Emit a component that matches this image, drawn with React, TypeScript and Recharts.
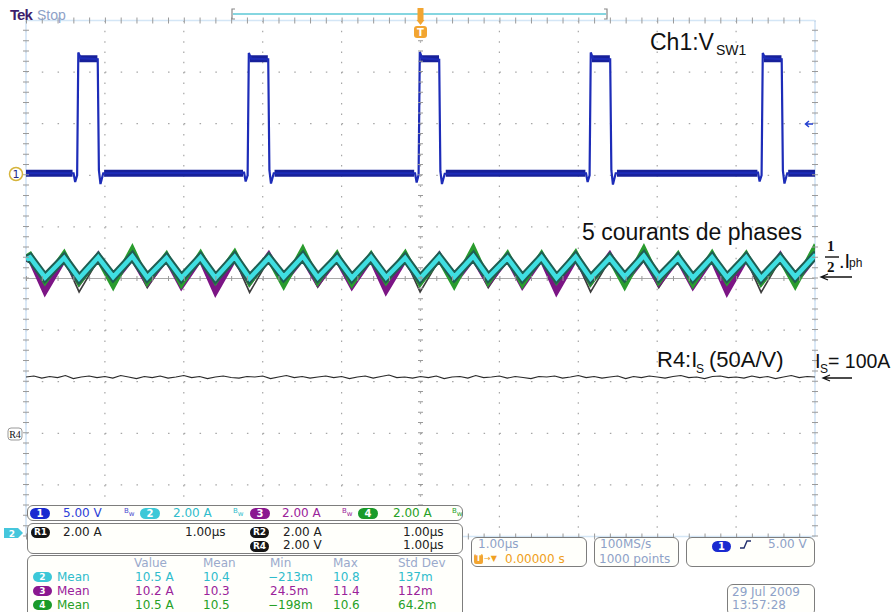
import React from 'react';
import { LineChart, Line, XAxis, YAxis, CartesianGrid, ReferenceLine } from 'recharts';

// horizontal: µs (1.00 µs/div), vertical: graticule divisions (0 = bottom edge, 10 = top edge)
const divTicks = [0, 1, 2, 3, 4, 5, 6, 7, 8, 9, 10];

// Ch1 : V_SW1
const ch1Time = [
  0, 0.603, 0.623, 0.648, 0.663, 0.693, 0.909, 0.924, 0.944, 0.979,
  2.764, 2.784, 2.809, 2.824, 2.854, 3.070, 3.085, 3.105, 3.140,
  4.931, 4.951, 4.976, 4.991, 5.021, 5.237, 5.252, 5.272, 5.307,
  7.098, 7.118, 7.143, 7.158, 7.188, 7.404, 7.419, 7.439, 7.474,
  9.278, 9.298, 9.323, 9.338, 9.368, 9.578, 9.593, 9.613, 9.648, 10,
];
const ch1Level = [
  7.04, 7.04, 6.87, 7.00, 9.38, 9.27, 9.25, 7.10, 6.83, 7.04,
  7.05, 6.88, 7.00, 9.37, 9.26, 9.25, 7.10, 6.84, 7.04,
  7.04, 6.86, 7.01, 9.39, 9.27, 9.24, 7.08, 6.83, 7.03,
  7.04, 6.87, 7.00, 9.38, 9.26, 9.25, 7.10, 6.82, 7.04,
  7.05, 6.88, 7.00, 9.37, 9.27, 9.25, 7.09, 6.84, 7.04, 7.04,
];
// noise envelope of Ch1 (low and high levels)
const ch1BandTime = [
  0, 0.59, 0.62, 0.675, 0.905, 0.94, 0.99, 2.75, 2.78, 2.835, 3.065, 3.10,
  3.15, 4.92, 4.95, 5.00, 5.235, 5.27, 5.32, 7.09, 7.12, 7.17, 7.40, 7.44,
  7.49, 9.27, 9.30, 9.35, 9.575, 9.61, 9.66, 10,
];
const ch1BandLevel = [
  7.04, 7.04, null, 9.26, 9.26, null, 7.04, 7.04, null, 9.26, 9.26, null,
  7.04, 7.04, null, 9.26, 9.26, null, 7.04, 7.04, null, 9.26, 9.26, null,
  7.04, 7.04, null, 9.26, 9.26, null, 7.04, 7.04,
];

// phase currents: peak / valley vertices
const rippleTime = [
  0, 0.051, 0.241, 0.483, 0.673, 0.915, 1.105, 1.347, 1.537, 1.780, 1.970,
  2.212, 2.402, 2.644, 2.834, 3.076, 3.266, 3.508, 3.698, 3.941, 4.131,
  4.373, 4.563, 4.805, 4.995, 5.237, 5.427, 5.669, 5.859, 6.102, 6.292,
  6.534, 6.724, 6.966, 7.156, 7.398, 7.588, 7.830, 8.020, 8.263, 8.453,
  8.695, 8.885, 9.127, 9.317, 9.559, 9.749, 9.991, 10,
];
const ch2 = [5.37,
  5.41, 5.02, 5.40, 5.00, 5.41, 5.03, 5.43, 5.02, 5.40, 5.01,
  5.41, 5.01, 5.42, 5.00, 5.40, 5.03, 5.43, 5.02, 5.40, 5.01,
  5.41, 5.02, 5.40, 5.00, 5.41, 5.03, 5.43, 5.02, 5.40, 5.01,
  5.41, 5.01, 5.42, 5.00, 5.40, 5.03, 5.44, 5.02, 5.40, 5.01,
  5.41, 5.02, 5.41, 5.00, 5.40, 5.03,
  5.43, 5.42];
const ch3 = [5.36,
  5.40, 4.76, 5.39, 4.93, 5.44, 4.94, 5.41, 4.92, 5.40, 4.86,
  5.40, 4.75, 5.40, 4.93, 5.45, 4.94, 5.41, 4.92, 5.39, 4.86,
  5.40, 4.77, 5.39, 4.93, 5.44, 4.93, 5.41, 4.92, 5.40, 4.87,
  5.40, 4.76, 5.40, 4.93, 5.45, 4.94, 5.41, 4.92, 5.39, 4.86,
  5.40, 4.75, 5.40, 4.93, 5.44, 4.94,
  5.41, 5.40];
const ch4 = [5.40,
  5.45, 4.95, 5.47, 4.93, 5.40, 4.87, 5.56, 4.94, 5.45, 4.90,
  5.47, 4.96, 5.49, 4.93, 5.41, 4.88, 5.55, 4.95, 5.46, 4.91,
  5.45, 4.95, 5.47, 4.92, 5.40, 4.88, 5.57, 4.94, 5.46, 4.90,
  5.46, 4.96, 5.48, 4.93, 5.41, 4.87, 5.56, 4.95, 5.45, 4.90,
  5.47, 4.95, 5.46, 4.92, 5.40, 4.88,
  5.57, 5.55];
const ref1 = [5.33,
  5.37, 4.90, 5.38, 4.74, 5.36, 4.96, 5.38, 4.82, 5.37, 4.95,
  5.37, 4.91, 5.38, 4.73, 5.36, 4.96, 5.38, 4.83, 5.37, 4.95,
  5.37, 4.90, 5.38, 4.74, 5.36, 4.96, 5.38, 4.82, 5.37, 4.95,
  5.37, 4.91, 5.38, 4.74, 5.36, 4.96, 5.38, 4.82, 5.37, 4.95,
  5.37, 4.90, 5.38, 4.73, 5.36, 4.96,
  5.38, 5.37];

// R4 : I_S, one sample every 0.1 µs
const r4 = [
  3.09, 3.11, 3.07, 3.10, 3.08, 3.12, 3.06, 3.09, 3.11, 3.08,
  3.10, 3.07, 3.12, 3.09, 3.06, 3.10, 3.08, 3.11, 3.07, 3.09,
  3.12, 3.08, 3.10, 3.06, 3.09, 3.11, 3.08, 3.07, 3.10, 3.09,
  3.11, 3.06, 3.09, 3.12, 3.08, 3.10, 3.07, 3.09, 3.11, 3.08,
  3.10, 3.06, 3.09, 3.11, 3.07, 3.10, 3.13, 3.08, 3.09, 3.07,
  3.10, 3.08, 3.11, 3.06, 3.09, 3.10, 3.07, 3.12, 3.08, 3.09,
  3.11, 3.07, 3.10, 3.08, 3.06, 3.10, 3.09, 3.11, 3.07, 3.09,
  3.12, 3.08, 3.10, 3.07, 3.09, 3.11, 3.06, 3.10, 3.08, 3.11,
  3.09, 3.07, 3.10, 3.12, 3.08, 3.09, 3.06, 3.10, 3.11, 3.08,
  3.09, 3.07, 3.11, 3.08, 3.10, 3.06, 3.09, 3.12, 3.08, 3.10, 3.09,
];

const zip = (ts: number[], vs: (number | null)[]) => ts.map((t, i) => ({ t, v: vs[i] }));
const ch1Data = zip(ch1Time, ch1Level);
const ch1BandData = zip(ch1BandTime, ch1BandLevel);
const ch2Data = zip(rippleTime, ch2);
const ch3Data = zip(rippleTime, ch3);
const ch4Data = zip(rippleTime, ch4);
const ref1Data = zip(rippleTime, ref1);
const r4Data = r4.map((v, i) => ({ t: i / 10, v }));

const UI = '"DejaVu Sans", sans-serif';
const ARIAL = '"Liberation Sans", Arial, sans-serif';
const SERIF = '"Liberation Serif", serif';
const LABEL = '#8ea2c8';

function T({ x, base, size = 12, color = '#222', family = UI, weight = 400, children, style }: any) {
  return (
    <div style={{ position: 'absolute', left: x, top: base - 0.846 * size, fontSize: size, lineHeight: `${size}px`, color, fontFamily: family, fontWeight: weight, whiteSpace: 'nowrap', ...style }}>
      {children}
    </div>
  );
}

function Box({ x, y, w, h }: any) {
  return <div style={{ position: 'absolute', left: x, top: y, width: w, height: h, border: '1.5px solid #7d7d7d', borderRadius: 6, background: '#fffffb', boxSizing: 'border-box' }} />;
}

function Pill({ x, y, w = 19, h = 11, bg, label, size = 10 }: any) {
  return (
    <div style={{ position: 'absolute', left: x, top: y, width: w, height: h, borderRadius: h / 2, background: bg, color: '#fff', fontFamily: UI, fontWeight: 700, fontSize: size, lineHeight: `${h}px`, textAlign: 'center' }}>
      {label}
    </div>
  );
}

function Bw({ x, y, color }: any) {
  return (
    <div style={{ position: 'absolute', left: x, top: y, fontFamily: UI, fontSize: 7, lineHeight: '7px', color }}>
      B<span style={{ position: 'relative', top: 3 }}>w</span>
    </div>
  );
}

export default function App() {
  return (
    <div style={{ position: 'absolute', left: 0, top: 0, width: 895, height: 612, background: '#fff', overflow: 'hidden' }}>
      <LineChart width={895} height={612} margin={{ top: 20.5, right: 80, bottom: 75.5, left: 26 }}>
        <XAxis type="number" dataKey="t" domain={[0, 10]} ticks={divTicks} hide allowDataOverflow />
        <YAxis type="number" dataKey="v" domain={[0, 10]} ticks={divTicks} hide allowDataOverflow />
        <CartesianGrid horizontal={false} stroke="#a6a6a6" strokeWidth={1.2} strokeDasharray="1.5 8.82" />
        <CartesianGrid vertical={false} stroke="#a6a6a6" strokeWidth={1.2} strokeDasharray="1.5 14.28" />
        <ReferenceLine y={5} stroke="#a9a9a9" strokeWidth={1.2} />
        <ReferenceLine y={0} stroke="#d4e6f6" strokeWidth={1.5} />
        <ReferenceLine y={10} stroke="#d4e6f6" strokeWidth={1.5} />
        <ReferenceLine x={0} stroke="#cfe2f4" strokeWidth={1.5} />
        <ReferenceLine x={10} stroke="#cfe2f4" strokeWidth={1.5} />

        <Line data={ch1BandData} dataKey="v" type="linear" stroke="#17209a" strokeWidth={7} dot={false} connectNulls={false} isAnimationActive={false} />
        <Line data={ch1Data} dataKey="v" type="linear" stroke="#1d2cb8" strokeWidth={2.2} dot={false} isAnimationActive={false} />

        <Line data={ref1Data} dataKey="v" type="linear" stroke="#3c3c3c" strokeWidth={1.6} dot={false} isAnimationActive={false} />
        <Line data={ch3Data} dataKey="v" type="linear" stroke="#7c1585" strokeWidth={6} dot={false} isAnimationActive={false} />
        <Line data={ch4Data} dataKey="v" type="linear" stroke="#2a9c2e" strokeWidth={6} dot={false} isAnimationActive={false} />
        <Line data={ch2Data} dataKey="v" type="linear" stroke="#1f5e52" strokeWidth={8.5} dot={false} isAnimationActive={false} />
        <Line data={ch2Data} dataKey="v" type="linear" stroke="#3fdfe2" strokeWidth={4.5} dot={false} isAnimationActive={false} />

        <Line data={r4Data} dataKey="v" type="linear" stroke="#2a2a2a" strokeWidth={1.1} dot={false} isAnimationActive={false} />

        <ReferenceLine x={5} stroke="#9a9a9a" strokeWidth={5} strokeDasharray="1 9.32" />
        <ReferenceLine y={5} stroke="#9a9a9a" strokeWidth={5} strokeDasharray="1 14.78" />
        <ReferenceLine y={10} stroke="#9a9a9a" strokeWidth={6} strokeDasharray="1 14.78" />
        <ReferenceLine y={0} stroke="#9a9a9a" strokeWidth={6} strokeDasharray="1 14.78" />
        <ReferenceLine x={0} stroke="#9a9a9a" strokeWidth={6} strokeDasharray="1 9.32" />
        <ReferenceLine x={10} stroke="#9a9a9a" strokeWidth={6} strokeDasharray="1 9.32" />
      </LineChart>

      <svg width={895} height={612} style={{ position: 'absolute', left: 0, top: 0, pointerEvents: 'none' }}>
        {/* record view bar */}
        <line x1={233} y1={14} x2={606} y2={14} stroke="#5cc9d6" strokeWidth={1.5} />
        <path d="M235 9 H232 V19 H235" fill="none" stroke="#888" strokeWidth={1.2} />
        <path d="M604 9 H607 V19 H604" fill="none" stroke="#888" strokeWidth={1.2} />
        {/* trigger position */}
        <rect x={417.5} y={8} width={6} height={12} fill="#f2a531" />
        <path d="M416.5 20 H424.5 L420.5 25 Z" fill="#f2a531" />
        <rect x={414} y={26} width={13} height={12} rx={3} fill="#f2a531" />
        <text x={420.5} y={36} textAnchor="middle" fontSize={10} fontWeight={700} fill="#fff" fontFamily={UI}>T</text>
        {/* trigger level */}
        <path d="M813 124 H806 M809 121 L805.5 124 L809 127" fill="none" stroke="#2440d0" strokeWidth={1.5} />
        {/* Ch1 ground marker */}
        <rect x={9.5} y={167.5} width={13} height={13} rx={6.5} fill="#fff" stroke="#d6b43c" strokeWidth={1.5} />
        <text x={16} y={178} textAnchor="middle" fontSize={11} fill="#232a8a" fontFamily={UI}>1</text>
        {/* R4 marker */}
        <rect x={8} y={428} width={14} height={12} rx={3} fill="#fff" stroke="#999" strokeWidth={1} />
        <text x={15} y={437.5} textAnchor="middle" fontSize={10} fill="#111" fontFamily={SERIF}>R4</text>
        {/* Ch2 offset marker */}
        <path d="M4 528 H18 L23 533 L18 538 H4 Z" fill="#45c6dc" />
        <text x={12} y={536.5} textAnchor="middle" fontSize={9} fontWeight={700} fill="#fff" fontFamily={UI}>2</text>
        {/* annotation arrows */}
        <path d="M852 277 H822 M828 274 L821 277 L828 280" fill="none" stroke="#111" strokeWidth={1.3} />
        <path d="M852 378 H824 M830 375 L823 378 L830 381" fill="none" stroke="#111" strokeWidth={1.3} />
        <line x1={825} y1={257} x2={839} y2={257} stroke="#111" strokeWidth={1.4} />
      </svg>

      <T x={10} base={20} size={15} color="#3d1d6d" family={ARIAL} weight={700} style={{ letterSpacing: -1 }}>Tek</T>
      <T x={37} base={20} size={14} color={LABEL} family={ARIAL}>Stop</T>

      <T x={650} base={50} size={23} color="#111" family={ARIAL}>Ch1:V</T>
      <T x={716} base={55} size={14} color="#111" family={ARIAL}>SW1</T>
      <T x={582} base={240} size={23} color="#111" family={ARIAL}>5 courants de phases</T>
      <T x={827} base={252} size={15} color="#111" family={SERIF} weight={700}>1</T>
      <T x={827} base={273} size={15} color="#111" family={SERIF} weight={700}>2</T>
      <T x={839} base={268} size={20} color="#111" family={ARIAL}>.I</T>
      <T x={849} base={267} size={12} color="#111" family={ARIAL}>ph</T>
      <T x={657} base={368} size={22} color="#111" family={ARIAL}>R4:I</T>
      <T x={696} base={373} size={12} color="#111" family={ARIAL}>S</T>
      <T x={709} base={368} size={22} color="#111" family={ARIAL}>(50A/V)</T>
      <T x={815} base={368} size={20} color="#111" family={ARIAL}>I</T>
      <T x={820} base={373} size={12} color="#111" family={ARIAL}>S</T>
      <T x={828} base={368} size={19.5} color="#111" family={ARIAL}>= 100A</T>

      {/* channel scale bar */}
      <Box x={27} y={505} w={436} h={16} />
      <Pill x={30} y={507.5} w={20} h={11} bg="#1a2ad0" label="1" />
      <T x={63} base={517} color="#2c3ed8">5.00 V</T>
      <Bw x={124} y={508} color="#4a4ad0" />
      <Pill x={140} y={507.5} w={20} h={11} bg="#3cc8d8" label="2" />
      <T x={173} base={517} color="#2fbccc">2.00 A</T>
      <Bw x={233} y={508} color="#2fbccc" />
      <Pill x={250} y={507.5} w={20} h={11} bg="#8a1890" label="3" />
      <T x={282} base={517} color="#9a229a">2.00 A</T>
      <Bw x={342} y={508} color="#9a229a" />
      <Pill x={358} y={507.5} w={20} h={11} bg="#1a9a2a" label="4" />
      <T x={393} base={517} color="#26a026">2.00 A</T>
      <Bw x={452} y={508} color="#26a026" />

      {/* reference waveforms */}
      <Box x={27} y={523} w={436} h={31} />
      <Pill x={31} y={527} w={19} h={11} bg="#151515" label="R1" size={9} />
      <T x={63} base={536}>2.00 A</T>
      <T x={185} base={536}>1.00µs</T>
      <Pill x={250} y={527} w={19} h={11} bg="#151515" label="R2" size={9} />
      <T x={283} base={536}>2.00 A</T>
      <T x={403} base={536}>1.00µs</T>
      <Pill x={250} y={541} w={19} h={11} bg="#151515" label="R4" size={9} />
      <T x={283} base={549}>2.00 V</T>
      <T x={403} base={549}>1.00µs</T>

      {/* measurements */}
      <Box x={27} y={555} w={436} h={64} />
      <T x={134} base={567} color="#9aaacc">Value</T>
      <T x={203} base={567} color="#9aaacc">Mean</T>
      <T x={270} base={567} color="#9aaacc">Min</T>
      <T x={333} base={567} color="#9aaacc">Max</T>
      <T x={398} base={567} color="#9aaacc">Std Dev</T>

      <Pill x={33} y={572} w={19} h={10} bg="#3cc8d8" label="2" size={9} />
      <T x={57} base={581} color="#2fbccc">Mean</T>
      <T x={135} base={581} color="#2fbccc">10.5 A</T>
      <T x={203} base={581} color="#2fbccc">10.4</T>
      <T x={268} base={581} color="#2fbccc">−213m</T>
      <T x={333} base={581} color="#2fbccc">10.8</T>
      <T x={398} base={581} color="#2fbccc">137m</T>

      <Pill x={33} y={586} w={19} h={10} bg="#8a1890" label="3" size={9} />
      <T x={57} base={595} color="#9a229a">Mean</T>
      <T x={135} base={595} color="#9a229a">10.2 A</T>
      <T x={203} base={595} color="#9a229a">10.3</T>
      <T x={270} base={595} color="#9a229a">24.5m</T>
      <T x={333} base={595} color="#9a229a">11.4</T>
      <T x={398} base={595} color="#9a229a">112m</T>

      <Pill x={33} y={600} w={19} h={10} bg="#1a9a2a" label="4" size={9} />
      <T x={57} base={609} color="#26a026">Mean</T>
      <T x={135} base={609} color="#26a026">10.5 A</T>
      <T x={203} base={609} color="#26a026">10.5</T>
      <T x={268} base={609} color="#26a026">−198m</T>
      <T x={333} base={609} color="#26a026">10.6</T>
      <T x={398} base={609} color="#26a026">64.2m</T>

      {/* horizontal / acquisition / trigger */}
      <Box x={471} y={537} w={116} h={30} />
      <T x={478} base={548} color={LABEL}>1.00µs</T>
      <div style={{ position: 'absolute', left: 474, top: 554, width: 9, height: 10, borderRadius: 2, background: '#f2a531', color: '#fff', fontSize: 8, lineHeight: '10px', textAlign: 'center', fontFamily: UI, fontWeight: 700 }}>T</div>
      <T x={484} base={562} size={8} color="#f0a020">→▼</T>
      <T x={505} base={563} color="#f0a020">0.00000 s</T>

      <Box x={594} y={537} w={85} h={30} />
      <T x={600} base={548} color={LABEL}>100MS/s</T>
      <T x={599} base={563} color={LABEL}>1000 points</T>

      <Box x={686} y={537} w={129} h={30} />
      <Pill x={712} y={541} w={19} h={11} bg="#1a2ad0" label="1" />
      <svg width={20} height={14} style={{ position: 'absolute', left: 738, top: 538 }}>
        <path d="M2 10 H6 L9 3 H13" fill="none" stroke="#23306e" strokeWidth={1.4} />
      </svg>
      <T x={768} base={548} color={LABEL}>5.00 V</T>

      <Box x={727} y={584} w={88} h={32} />
      <T x={732} base={596} color={LABEL}>29 Jul   2009</T>
      <T x={732} base={609} color={LABEL}>13:57:28</T>
    </div>
  );
}
